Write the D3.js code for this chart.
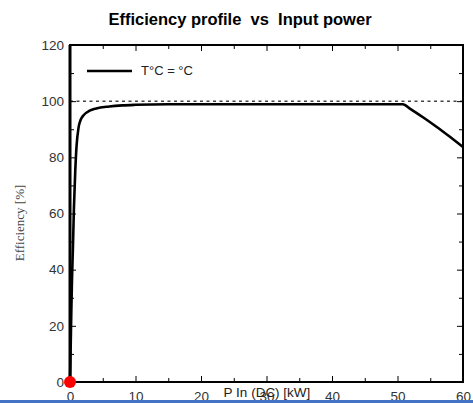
<!DOCTYPE html>
<html>
<head>
<meta charset="utf-8">
<script src="https://cdn.jsdelivr.net/npm/d3@7"></script>
<style>
  body { margin: 0; background: #fff; }
  svg { display: block; font-family: "Liberation Sans", Arial, sans-serif; }
  .tick text { fill: #333; font-size: 13.5px; }
</style>
</head>
<body>
<svg id="chart"></svg>
<script>
// chart data
var powerKw = [0, 0.1, 0.2, 0.3, 0.45, 0.6, 0.8, 1.0, 1.3, 1.6, 2, 3, 4, 6, 8, 10, 15, 20, 30, 40, 50, 50.8, 52, 54, 56, 58, 60];
var efficiency = [0, 12, 25, 36, 48, 62, 75, 84, 90.5, 93.2, 94.8, 96.6, 97.4, 98.1, 98.5, 98.7, 98.9, 98.9, 98.9, 98.9, 98.9, 98.9, 97.2, 94.1, 90.8, 87.3, 83.7];
var xTicks = [0, 10, 20, 30, 40, 50, 60];
var xMinor = [5, 15, 25, 35, 45, 55];
var yTicks = [0, 20, 40, 60, 80, 100, 120];
var yMinor = [10, 30, 50, 70, 90, 110];
var refLevel = 100;

var width = 473, height = 403;
var margin = { left: 70, right: 10, top: 45, bottom: 21 };

var svg = d3.select("#chart")
    .attr("width", width)
    .attr("height", height);

var x = d3.scaleLinear().domain([0, 60]).range([margin.left, width - margin.right]);
var y = d3.scaleLinear().domain([0, 120]).range([height - margin.bottom, margin.top]);

// title (double spaces kept)
svg.append("text")
    .attr("x", 240).attr("y", 25)
    .attr("text-anchor", "middle")
    .style("font-size", "16.5px")
    .style("font-weight", "bold")
    .style("white-space", "pre")
    .text("Efficiency profile  vs  Input power");

// reference line at 100%
svg.append("line")
    .attr("x1", x(0)).attr("x2", x(60))
    .attr("y1", y(refLevel)).attr("y2", y(refLevel))
    .attr("stroke", "#444")
    .attr("stroke-width", 1.5)
    .attr("stroke-dasharray", "3,3.5");

// axes, ticks pointing inwards
function styleAxis(g) {
    g.select(".domain").remove();
    g.selectAll(".tick line").attr("stroke", "#000").attr("stroke-width", 1);
}

svg.append("g")
    .attr("transform", "translate(0," + y(0) + ")")
    .call(d3.axisBottom(x).tickValues(xTicks).tickSizeInner(-6).tickPadding(8))
    .call(styleAxis)
    .selectAll("text").attr("dy", "0.78em");
svg.append("g")
    .attr("transform", "translate(0," + y(0) + ")")
    .call(d3.axisBottom(x).tickValues(xMinor).tickSizeInner(-4).tickFormat(""))
    .call(styleAxis);
svg.append("g")
    .attr("transform", "translate(0," + y(120) + ")")
    .call(d3.axisTop(x).tickValues(xTicks).tickSizeInner(-6).tickFormat(""))
    .call(styleAxis);
svg.append("g")
    .attr("transform", "translate(0," + y(120) + ")")
    .call(d3.axisTop(x).tickValues(xMinor).tickSizeInner(-4).tickFormat(""))
    .call(styleAxis);

svg.append("g")
    .attr("transform", "translate(" + x(0) + ",0)")
    .call(d3.axisLeft(y).tickValues(yTicks).tickSizeInner(-6).tickPadding(6))
    .call(styleAxis);
svg.append("g")
    .attr("transform", "translate(" + x(0) + ",0)")
    .call(d3.axisLeft(y).tickValues(yMinor).tickSizeInner(-4).tickFormat(""))
    .call(styleAxis);
svg.append("g")
    .attr("transform", "translate(" + x(60) + ",0)")
    .call(d3.axisRight(y).tickValues(yTicks).tickSizeInner(-6).tickFormat(""))
    .call(styleAxis);
svg.append("g")
    .attr("transform", "translate(" + x(60) + ",0)")
    .call(d3.axisRight(y).tickValues(yMinor).tickSizeInner(-4).tickFormat(""))
    .call(styleAxis);

// frame
svg.append("rect")
    .attr("x", x(0)).attr("y", y(120))
    .attr("width", x(60) - x(0)).attr("height", y(0) - y(120))
    .attr("fill", "none")
    .attr("stroke", "#000")
    .attr("stroke-width", 2);
svg.append("line")
    .attr("x1", x(0)).attr("x2", x(0))
    .attr("y1", y(120)).attr("y2", y(0))
    .attr("stroke", "#000")
    .attr("stroke-width", 3);

// efficiency curve
var line = d3.line()
    .x(function (d, i) { return x(powerKw[i]); })
    .y(function (d) { return y(d); })
    .curve(d3.curveMonotoneX);

svg.append("path")
    .datum(efficiency)
    .attr("d", line)
    .attr("fill", "none")
    .attr("stroke", "#000")
    .attr("stroke-width", 2.6)
    .attr("stroke-linejoin", "round");

// legend
svg.append("line")
    .attr("x1", 87).attr("x2", 132)
    .attr("y1", 71).attr("y2", 71)
    .attr("stroke", "#000")
    .attr("stroke-width", 2.6);
svg.append("text")
    .attr("x", 141).attr("y", 75)
    .style("font-size", "13px")
    .attr("fill", "#222")
    .text("T°C = °C");

// axis titles
svg.append("text")
    .attr("x", 267).attr("y", 397)
    .attr("text-anchor", "middle")
    .style("font-size", "13.5px")
    .attr("fill", "#222")
    .text("P In (DC) [kW]");

svg.append("text")
    .attr("transform", "translate(24,223) rotate(-90)")
    .attr("text-anchor", "middle")
    .style("font-family", "'Liberation Serif', 'Times New Roman', serif")
    .style("font-size", "13px")
    .attr("fill", "#444")
    .text("Efficiency [%]");

// red marker at origin
svg.append("circle")
    .attr("cx", x(0)).attr("cy", y(0))
    .attr("r", 6)
    .attr("fill", "#ff0000");

// blue bar across the bottom
svg.append("rect")
    .attr("x", 0).attr("y", 400)
    .attr("width", width).attr("height", 3)
    .attr("fill", "#4472c4");
</script>
</body>
</html>
